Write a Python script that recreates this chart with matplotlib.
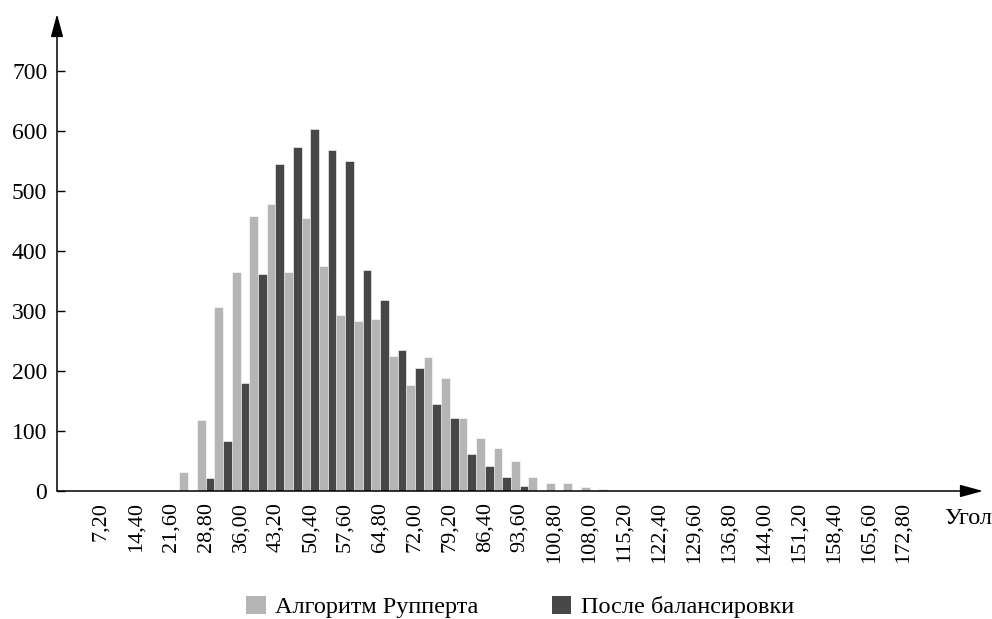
import matplotlib
matplotlib.use("Agg")
import matplotlib.pyplot as plt
from matplotlib.patches import Patch

plt.rcParams['font.family'] = ['Liberation Serif', 'DejaVu Serif']

# Category angles (degrees), bin width 3.6
angles = [0.0, 3.6, 7.2, 10.8, 14.4, 18.0, 21.6, 25.2, 28.8, 32.4, 36.0, 39.6,
          43.2, 46.8, 50.4, 54.0, 57.6, 61.2, 64.8, 68.4, 72.0, 75.6, 79.2, 82.8,
          86.4, 90.0, 93.6, 97.2, 100.8, 104.4, 108.0, 111.6, 115.2, 118.8, 122.4,
          126.0, 129.6, 133.2, 136.8, 140.4, 144.0, 147.6, 151.2, 154.8, 158.4,
          162.0, 165.6, 169.2, 172.8, 176.4, 180.0]

ruppert = [0, 0, 0, 0, 0, 0, 0, 31, 118, 307, 365, 458,
           479, 365, 455, 375, 293, 283, 286, 225, 177, 224, 188, 121,
           89, 72, 50, 24, 13, 13, 6, 4, 0, 0, 0,
           0, 0, 0, 0, 0, 0, 0, 0, 0, 0,
           0, 0, 0, 0, 0, 0]

balanced = [0, 0, 0, 0, 0, 0, 0, 0, 22, 84, 180, 361,
            545, 573, 603, 569, 550, 368, 318, 235, 205, 145, 121, 61,
            41, 23, 9, 0, 0, 0, 0, 0, 0, 0, 0,
            0, 0, 0, 0, 0, 0, 0, 0, 0, 0,
            0, 0, 0, 0, 0, 0]

tick_labels = ["7,20", "14,40", "21,60", "28,80", "36,00", "43,20", "50,40",
               "57,60", "64,80", "72,00", "79,20", "86,40", "93,60", "100,80",
               "108,00", "115,20", "122,40", "129,60", "136,80", "144,00",
               "151,20", "158,40", "165,60", "172,80"]
y_ticks = [0, 100, 200, 300, 400, 500, 600, 700]

legend_labels = ["Алгоритм Рупперта", "После балансировки"]
light_color = "#b5b5b5"
dark_color = "#474747"

W, H = 992, 619
fig = plt.figure(figsize=(W / 100, H / 100), dpi=100)
ax = fig.add_axes([57 / W, (H - 491) / H, (983 - 57) / W, (491 - 14) / H])

idx = list(range(len(angles)))
bw = 0.5
ax.bar([i - bw / 2 for i in idx], ruppert, width=bw, color=light_color,
       edgecolor="white", linewidth=0.4)
ax.bar([i + bw / 2 for i in idx], balanced, width=bw, color=dark_color,
       edgecolor="white", linewidth=0.4)

px_per_idx = 17.45
ax.set_xlim(-9 / px_per_idx, (983 - 66) / px_per_idx)
ax.set_ylim(0, (491 - 14) / 0.6)

# x ticks: every other category starting at 7.2
tick_pos = [angles.index(a) for a in angles if any(
    abs(a - float(t.replace(",", "."))) < 1e-6 for t in tick_labels)]
ax.set_xticks(tick_pos)
ax.set_xticklabels(tick_labels, rotation=90, fontsize=16)
ax.tick_params(axis="x", length=0, pad=8)

ax.set_yticks(y_ticks)
ax.set_yticklabels([str(v) for v in y_ticks], fontsize=17)
ax.tick_params(axis="y", direction="in", length=5.5, width=1.0, pad=7)

for s in ["top", "right", "left", "bottom"]:
    ax.spines[s].set_visible(False)

arrow_kw = dict(arrowstyle="-|>,head_length=1.4,head_width=0.38",
                color="black", lw=1.1, mutation_scale=10, shrinkA=0, shrinkB=0)
ax.annotate("", xy=(0, 1), xytext=(0, 0), xycoords="axes fraction",
            textcoords="axes fraction", arrowprops=arrow_kw, annotation_clip=False)
ax.annotate("", xy=(1, 0), xytext=(0, 0), xycoords="axes fraction",
            textcoords="axes fraction", arrowprops=arrow_kw, annotation_clip=False)

fig.text(944 / W, 1 - 518 / H, "Угол", fontsize=17.5, ha="left", va="center")

handles = [Patch(facecolor=light_color, edgecolor="none"),
           Patch(facecolor=dark_color, edgecolor="none")]
fig.legend(handles, legend_labels, loc="center", bbox_to_anchor=(520 / W, 1 - 607 / H),
           ncol=2, frameon=False, fontsize=17.5, handlelength=0.8, handleheight=0.8,
           handletextpad=0.4, columnspacing=3.0, borderaxespad=0, borderpad=0)

fig.savefig("out.png", dpi=100)
